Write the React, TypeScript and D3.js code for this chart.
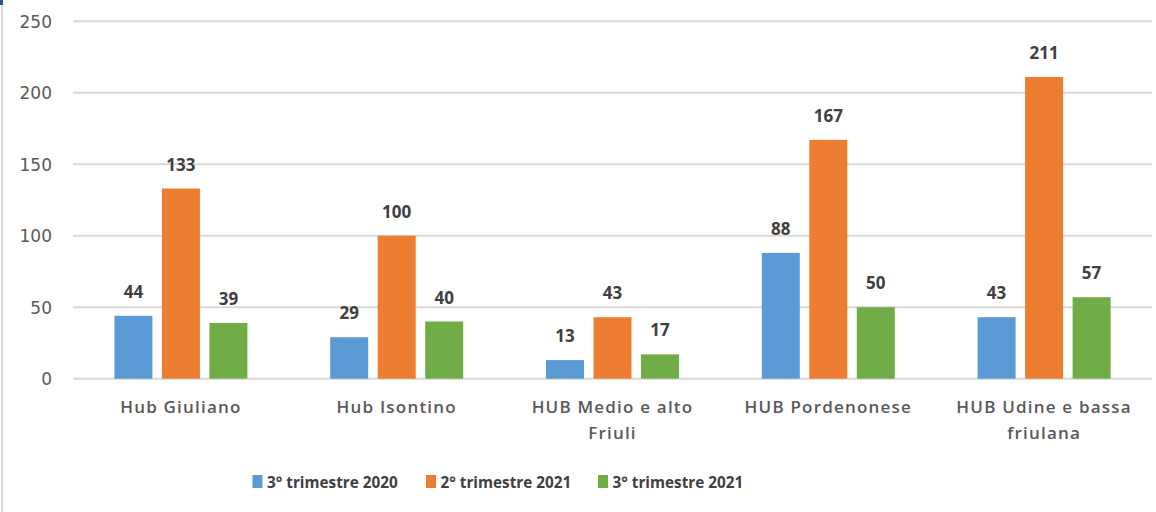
import React from "react";
import * as d3 from "d3";

const categories = [
  ["Hub Giuliano"],
  ["Hub Isontino"],
  ["HUB Medio e alto", "Friuli"],
  ["HUB Pordenonese"],
  ["HUB Udine e bassa", "friulana"],
];
const seriesNames = ["3° trimestre 2020", "2° trimestre 2021", "3° trimestre 2021"];
const s2020q3 = [44, 29, 13, 88, 43];
const s2021q2 = [133, 100, 43, 167, 211];
const s2021q3 = [39, 40, 17, 50, 57];
const yTicks = [0, 50, 100, 150, 200, 250];
const colors = ["#5B9BD5", "#ED7D31", "#70AD47"];

const W = 1156, H = 512;
const left = 73, right = 1152, top = 21.2, bottom = 378.7;

export default function App() {
  const series = [s2020q3, s2021q2, s2021q3];
  const x = d3.scaleBand<number>().domain(d3.range(categories.length)).range([left, right]).paddingInner(0).paddingOuter(0);
  const y = d3.scaleLinear().domain([0, 250]).range([bottom, top]);
  const bw = 38, gap = 9.5;
  const groupW = bw * 3 + gap * 2;
  const legendX = [252.5, 426, 598];
  return (
    <svg width={W} height={H} style={{ position: "absolute", left: 0, top: 0, background: "#fff" }}>
      <rect x={0} y={0} width={W} height={H} fill="#fff" />
      <line x1={2} x2={2} y1={0} y2={H} stroke="#d9d9d9" strokeWidth={2} />
      <rect x={0} y={0} width={3} height={5} fill="#2f5597" />
      {yTicks.map((t) => (
        <g key={t}>
          <line x1={left} x2={right} y1={y(t)} y2={y(t)} stroke="#d9d9d9" strokeWidth={2} />
          <text x={52} y={y(t) + 6.5} textAnchor="end" fontFamily="DejaVu Sans" fontSize={17} fill="#595959">{t}</text>
        </g>
      ))}
      {categories.map((c, i) => {
        const cx = (x(i) as number) + x.bandwidth() / 2;
        return (
          <g key={i}>
            {series.map((s, j) => {
              const bx = cx - groupW / 2 + j * (bw + gap);
              return (
                <g key={j}>
                  <rect x={bx} y={y(s[i])} width={bw} height={bottom - y(s[i])} fill={colors[j]} />
                  <text x={bx + bw / 2} y={y(s[i]) - 18} textAnchor="middle" fontFamily="Open Sans" fontWeight={700} fontSize={17} fill="#404040">{s[i]}</text>
                </g>
              );
            })}
            {c.map((line, k) => (
              <text key={k} x={cx} y={412.5 + k * 26.5} textAnchor="middle" fontFamily="Open Sans" fontWeight={600} fontSize={17} letterSpacing={1.2} fill="#595959">{line}</text>
            ))}
          </g>
        );
      })}
      {seriesNames.map((n, j) => (
        <g key={j}>
          <rect x={legendX[j]} y={475} width={10} height={13} fill={colors[j]} />
          <text x={legendX[j] + 14.5} y={488} fontFamily="Open Sans" fontWeight={700} fontSize={15.3} fill="#404040">{n}</text>
        </g>
      ))}
    </svg>
  );
}
